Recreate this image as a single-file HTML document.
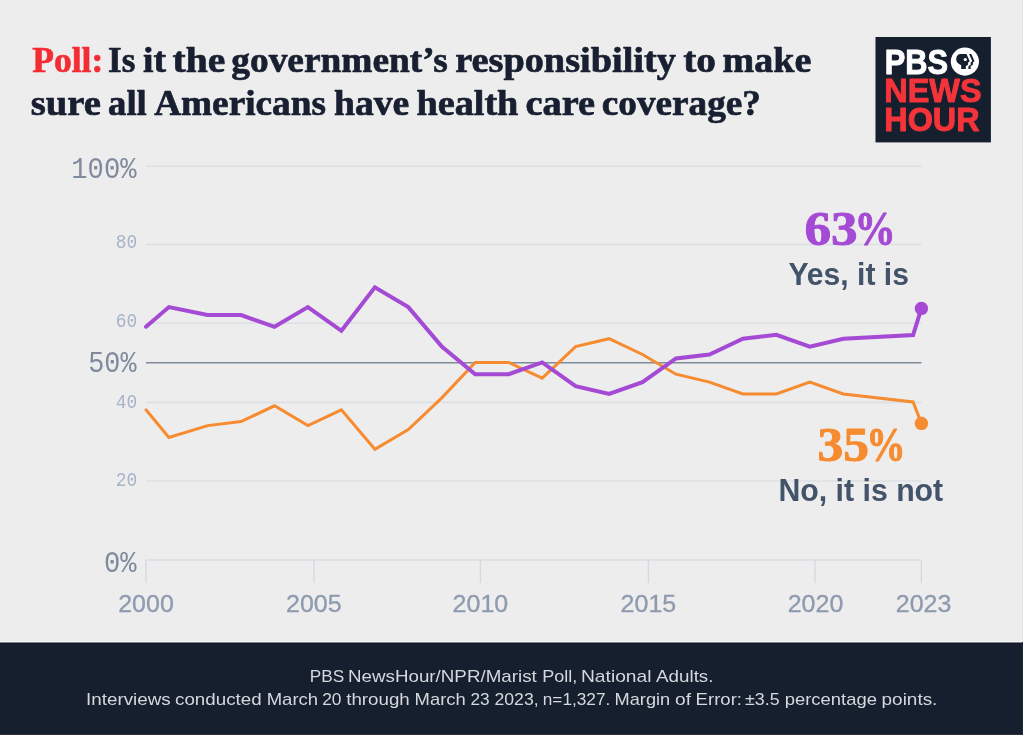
<!DOCTYPE html>
<html lang="en"><head><meta charset="utf-8"><title>Poll: health care coverage</title>
<style>
html,body{margin:0;padding:0;background:#ededed;}
body{width:1023px;height:735px;overflow:hidden;}
svg{display:block}
.t{font-family:"Liberation Serif",serif;font-weight:bold;font-size:36.6px;fill:#171f30;stroke:#171f30;stroke-width:0.7px;stroke-linejoin:round}
.big{font-family:"Liberation Mono",monospace;font-size:28.6px;fill:#7f8b9c}
.sm{font-family:"Liberation Mono",monospace;font-size:20.2px;fill:#a6b3c8}
.xl{font-family:"Liberation Sans",sans-serif;font-size:24px;fill:#8e9aaf;stroke:#8e9aaf;stroke-width:0.3px}
.pct{font-family:"Liberation Serif",serif;font-weight:bold;font-size:48px;stroke-width:0.9px;stroke-linejoin:round}
.lab{font-family:"Liberation Sans",sans-serif;font-weight:bold;font-size:32px;fill:#43546a}
.ft{font-family:"Liberation Sans",sans-serif;font-size:17px;fill:#d5d8dd}
.lg{font-family:"Liberation Sans",sans-serif;font-weight:bold;font-size:34px;stroke-width:1px;stroke-linejoin:round}
</style></head><body>
<svg width="1023" height="735" viewBox="0 0 1023 735">
<rect width="1023" height="735" fill="#ededed"/>
<rect x="1022" y="0" width="1" height="642" fill="#e4e6e5"/>
<!-- title -->
<text y="72.2" class="t"><tspan x="32.20" style="fill:#f42c34;stroke:#f42c34" textLength="71.10" lengthAdjust="spacingAndGlyphs">Poll:</tspan> <tspan x="108.10" textLength="27.20" lengthAdjust="spacingAndGlyphs">Is</tspan> <tspan x="143.00" textLength="23.00" lengthAdjust="spacingAndGlyphs">it</tspan> <tspan x="172.60" textLength="52.70" lengthAdjust="spacingAndGlyphs">the</tspan> <tspan x="231.30" textLength="216.60" lengthAdjust="spacingAndGlyphs">government’s</tspan> <tspan x="455.20" textLength="220.70" lengthAdjust="spacingAndGlyphs">responsibility</tspan> <tspan x="683.20" textLength="32.80" lengthAdjust="spacingAndGlyphs">to</tspan> <tspan x="722.60" textLength="88.70" lengthAdjust="spacingAndGlyphs">make</tspan></text>
<text y="114.7" class="t"><tspan x="30.80" textLength="70.20" lengthAdjust="spacingAndGlyphs">sure</tspan> <tspan x="108.10" textLength="38.70" lengthAdjust="spacingAndGlyphs">all</tspan> <tspan x="154.20" textLength="171.70" lengthAdjust="spacingAndGlyphs">Americans</tspan> <tspan x="334.00" textLength="75.30" lengthAdjust="spacingAndGlyphs">have</tspan> <tspan x="416.40" textLength="102.00" lengthAdjust="spacingAndGlyphs">health</tspan> <tspan x="525.50" textLength="69.50" lengthAdjust="spacingAndGlyphs">care</tspan> <tspan x="601.80" textLength="159.10" lengthAdjust="spacingAndGlyphs">coverage?</tspan></text>

<!-- logo -->
<g>
<rect x="875.5" y="37" width="115.4" height="105.4" fill="#151f2e"/>
<text x="884.7" y="73.8" class="lg" style="font-size:35px" fill="#ffffff" stroke="#ffffff" textLength="63.3" lengthAdjust="spacingAndGlyphs">PBS</text>
<circle cx="964.9" cy="61.6" r="14.1" fill="#ffffff"/>
<path d="M960.6,53.9 L966.5,53.9 L969.7,61.3 L968.1,62.4 L968.1,64.8 L966.4,65.7 L965.8,66.4 L965.8,69.0 L961.2,69 L961.2,65.3 C958,64 956.2,62 956.2,59.6 C956.2,56 958,53.9 960.6,53.9Z" fill="#151f2e"/>
<path d="M971.3,53.9 L974.5,61.3 L972.9,62.4 L972.9,64.8 L971.2,65.7 L970.6,66.4 L970.6,69.0 L968.4,69.0 L968.4,66.4 L969.0,65.7 L970.7,64.8 L970.7,62.4 L972.3,61.3 L969.1,53.9Z" fill="#151f2e"/>
<circle cx="965.3" cy="59.5" r="1.6" fill="#ffffff"/>
<text x="884.3" y="102.4" class="lg" fill="#f4343a" stroke="#f4343a" textLength="97.3" lengthAdjust="spacingAndGlyphs">NEWS</text>
<text x="884.3" y="131.3" class="lg" fill="#f4343a" stroke="#f4343a" textLength="95.2" lengthAdjust="spacingAndGlyphs">HOUR</text>
</g>
<!-- grid -->
<line x1="146" x2="921.5" y1="166.3" y2="166.3" stroke="#dce0e4" stroke-width="1.6"/>
<line x1="146" x2="921.5" y1="244.5" y2="244.5" stroke="#dce0e4" stroke-width="1.6"/>
<line x1="146" x2="921.5" y1="323.1" y2="323.1" stroke="#dce0e4" stroke-width="1.6"/>
<line x1="146" x2="921.5" y1="402.4" y2="402.4" stroke="#dce0e4" stroke-width="1.6"/>
<line x1="146" x2="921.5" y1="481.0" y2="481.0" stroke="#dce0e4" stroke-width="1.6"/>
<line x1="146" x2="921.5" y1="560.1" y2="560.1" stroke="#d9dee5" stroke-width="1.5"/>
<line x1="146.0" x2="146.0" y1="560.1" y2="583" stroke="#d3d9e2" stroke-width="1.3"/>
<line x1="314.0" x2="314.0" y1="560.1" y2="583" stroke="#d3d9e2" stroke-width="1.3"/>
<line x1="480.4" x2="480.4" y1="560.1" y2="583" stroke="#d3d9e2" stroke-width="1.3"/>
<line x1="648.4" x2="648.4" y1="560.1" y2="583" stroke="#d3d9e2" stroke-width="1.3"/>
<line x1="815.0" x2="815.0" y1="560.1" y2="583" stroke="#d3d9e2" stroke-width="1.3"/>
<line x1="921.3" x2="921.3" y1="560.1" y2="583" stroke="#d3d9e2" stroke-width="1.3"/>
<line x1="146" x2="921.5" y1="362.7" y2="362.7" stroke="#808b9a" stroke-width="1.6"/>
<!-- y labels -->
<text x="136.5" y="178.4" text-anchor="end" class="big" textLength="65.2" lengthAdjust="spacingAndGlyphs">100%</text>
<text x="136.5" y="372.4" text-anchor="end" class="big" textLength="48.2" lengthAdjust="spacingAndGlyphs">50%</text>
<text x="136.5" y="572.2" text-anchor="end" class="big" textLength="32.6" lengthAdjust="spacingAndGlyphs">0%</text>
<text x="137.2" y="248.1" text-anchor="end" class="sm" textLength="21.5" lengthAdjust="spacingAndGlyphs">80</text>
<text x="137.2" y="326.6" text-anchor="end" class="sm" textLength="21.5" lengthAdjust="spacingAndGlyphs">60</text>
<text x="137.2" y="407.5" text-anchor="end" class="sm" textLength="21.5" lengthAdjust="spacingAndGlyphs">40</text>
<text x="137.2" y="486.2" text-anchor="end" class="sm" textLength="21.5" lengthAdjust="spacingAndGlyphs">20</text>
<text x="146.0" y="612.3" text-anchor="middle" class="xl" textLength="55.6" lengthAdjust="spacingAndGlyphs">2000</text>
<text x="313.8" y="612.3" text-anchor="middle" class="xl" textLength="55.6" lengthAdjust="spacingAndGlyphs">2005</text>
<text x="480.4" y="612.3" text-anchor="middle" class="xl" textLength="55.6" lengthAdjust="spacingAndGlyphs">2010</text>
<text x="648.4" y="612.3" text-anchor="middle" class="xl" textLength="55.6" lengthAdjust="spacingAndGlyphs">2015</text>
<text x="815.5" y="612.3" text-anchor="middle" class="xl" textLength="55.6" lengthAdjust="spacingAndGlyphs">2020</text>
<text x="923.6" y="612.3" text-anchor="middle" class="xl" textLength="55.6" lengthAdjust="spacingAndGlyphs">2023</text>

<!-- lines -->
<path d="M146.0,409.8 L168.9,437.4 L207.6,425.6 L241.0,421.6 L274.5,405.8 L307.9,425.6 L341.4,409.8 L374.9,449.3 L408.3,429.5 L441.8,397.9 L475.2,362.4 L508.7,362.4 L542.2,378.2 L575.6,346.6 L609.1,338.7 L642.5,354.5 L676.0,374.2 L709.5,382.1 L742.9,394.0 L776.4,394.0 L809.8,382.1 L843.3,394.0 L913.1,401.9 L921.4,423.4" fill="none" stroke="#f68b30" stroke-width="3.0" stroke-linejoin="miter" stroke-linecap="round"/>
<path d="M146.0,326.8 L168.9,307.1 L207.6,315.0 L241.0,315.0 L274.5,326.8 L307.9,307.1 L341.4,330.8 L374.9,287.3 L408.3,307.1 L441.8,346.6 L475.2,374.2 L508.7,374.2 L542.2,362.4 L575.6,386.1 L609.1,394.0 L642.5,382.1 L676.0,358.4 L709.5,354.5 L742.9,338.7 L776.4,334.8 L809.8,346.6 L843.3,338.7 L913.1,335.0 L921.4,308.4" fill="none" stroke="#a44ad4" stroke-width="4.0" stroke-linejoin="miter" stroke-linecap="round"/>
<circle cx="921.4" cy="423.4" r="6.7" fill="#f68b30"/>
<circle cx="921.4" cy="308.4" r="6.7" fill="#a44ad4"/>
<!-- annotations -->
<text y="244.9" class="pct" fill="#a44ad4" stroke="#a44ad4"><tspan x="804.40" textLength="53.20" lengthAdjust="spacingAndGlyphs">63</tspan><tspan x="854.40" textLength="41.20" lengthAdjust="spacingAndGlyphs">%</tspan></text>
<text x="788.4" y="284.5" class="lab" textLength="120.6" lengthAdjust="spacingAndGlyphs">Yes, it is</text>
<text y="460.5" class="pct" fill="#f68b30" stroke="#f68b30"><tspan x="817.40" textLength="51.50" lengthAdjust="spacingAndGlyphs">35</tspan><tspan x="866.20" textLength="39.40" lengthAdjust="spacingAndGlyphs">%</tspan></text>
<text x="778.4" y="500.6" class="lab" textLength="164.8" lengthAdjust="spacingAndGlyphs">No, it is not</text>
<!-- footer -->
<rect x="0" y="641" width="1023" height="1" fill="#f3f3f3"/>
<rect x="0" y="642.5" width="1023" height="92.5" fill="#151f2e"/>
<rect x="0" y="643" width="1023" height="1" fill="#121a29"/>
<rect x="1022" y="642" width="1" height="93" fill="#222836"/>
<rect x="0" y="734" width="1023" height="1" fill="#2c3240"/>
<text y="681.8" class="ft"><tspan x="309.84" textLength="34.45" lengthAdjust="spacingAndGlyphs">PBS</tspan> <tspan x="348.01" textLength="188.75" lengthAdjust="spacingAndGlyphs">NewsHour/NPR/Marist</tspan> <tspan x="542.20" textLength="35.11" lengthAdjust="spacingAndGlyphs">Poll,</tspan> <tspan x="581.01" textLength="70.47" lengthAdjust="spacingAndGlyphs">National</tspan> <tspan x="656.07" textLength="57.41" lengthAdjust="spacingAndGlyphs">Adults.</tspan></text>
<text y="704.6" class="ft"><tspan x="86.00" textLength="84.70" lengthAdjust="spacingAndGlyphs">Interviews</tspan> <tspan x="175.00" textLength="86.60" lengthAdjust="spacingAndGlyphs">conducted</tspan> <tspan x="266.70" textLength="51.40" lengthAdjust="spacingAndGlyphs">March</tspan> <tspan x="322.20" textLength="19.30" lengthAdjust="spacingAndGlyphs">20</tspan> <tspan x="346.20" textLength="63.60" lengthAdjust="spacingAndGlyphs">through</tspan> <tspan x="414.60" textLength="51.20" lengthAdjust="spacingAndGlyphs">March</tspan> <tspan x="470.50" textLength="19.20" lengthAdjust="spacingAndGlyphs">23</tspan> <tspan x="494.50" textLength="44.10" lengthAdjust="spacingAndGlyphs">2023,</tspan> <tspan x="542.80" textLength="67.50" lengthAdjust="spacingAndGlyphs">n=1,327.</tspan> <tspan x="614.50" textLength="55.70" lengthAdjust="spacingAndGlyphs">Margin</tspan> <tspan x="675.10" textLength="16.00" lengthAdjust="spacingAndGlyphs">of</tspan> <tspan x="695.60" textLength="46.40" lengthAdjust="spacingAndGlyphs">Error:</tspan> <tspan x="744.90" textLength="34.70" lengthAdjust="spacingAndGlyphs">±3.5</tspan> <tspan x="784.70" textLength="92.30" lengthAdjust="spacingAndGlyphs">percentage</tspan> <tspan x="881.60" textLength="55.80" lengthAdjust="spacingAndGlyphs">points.</tspan></text>
</svg>
</body></html>
